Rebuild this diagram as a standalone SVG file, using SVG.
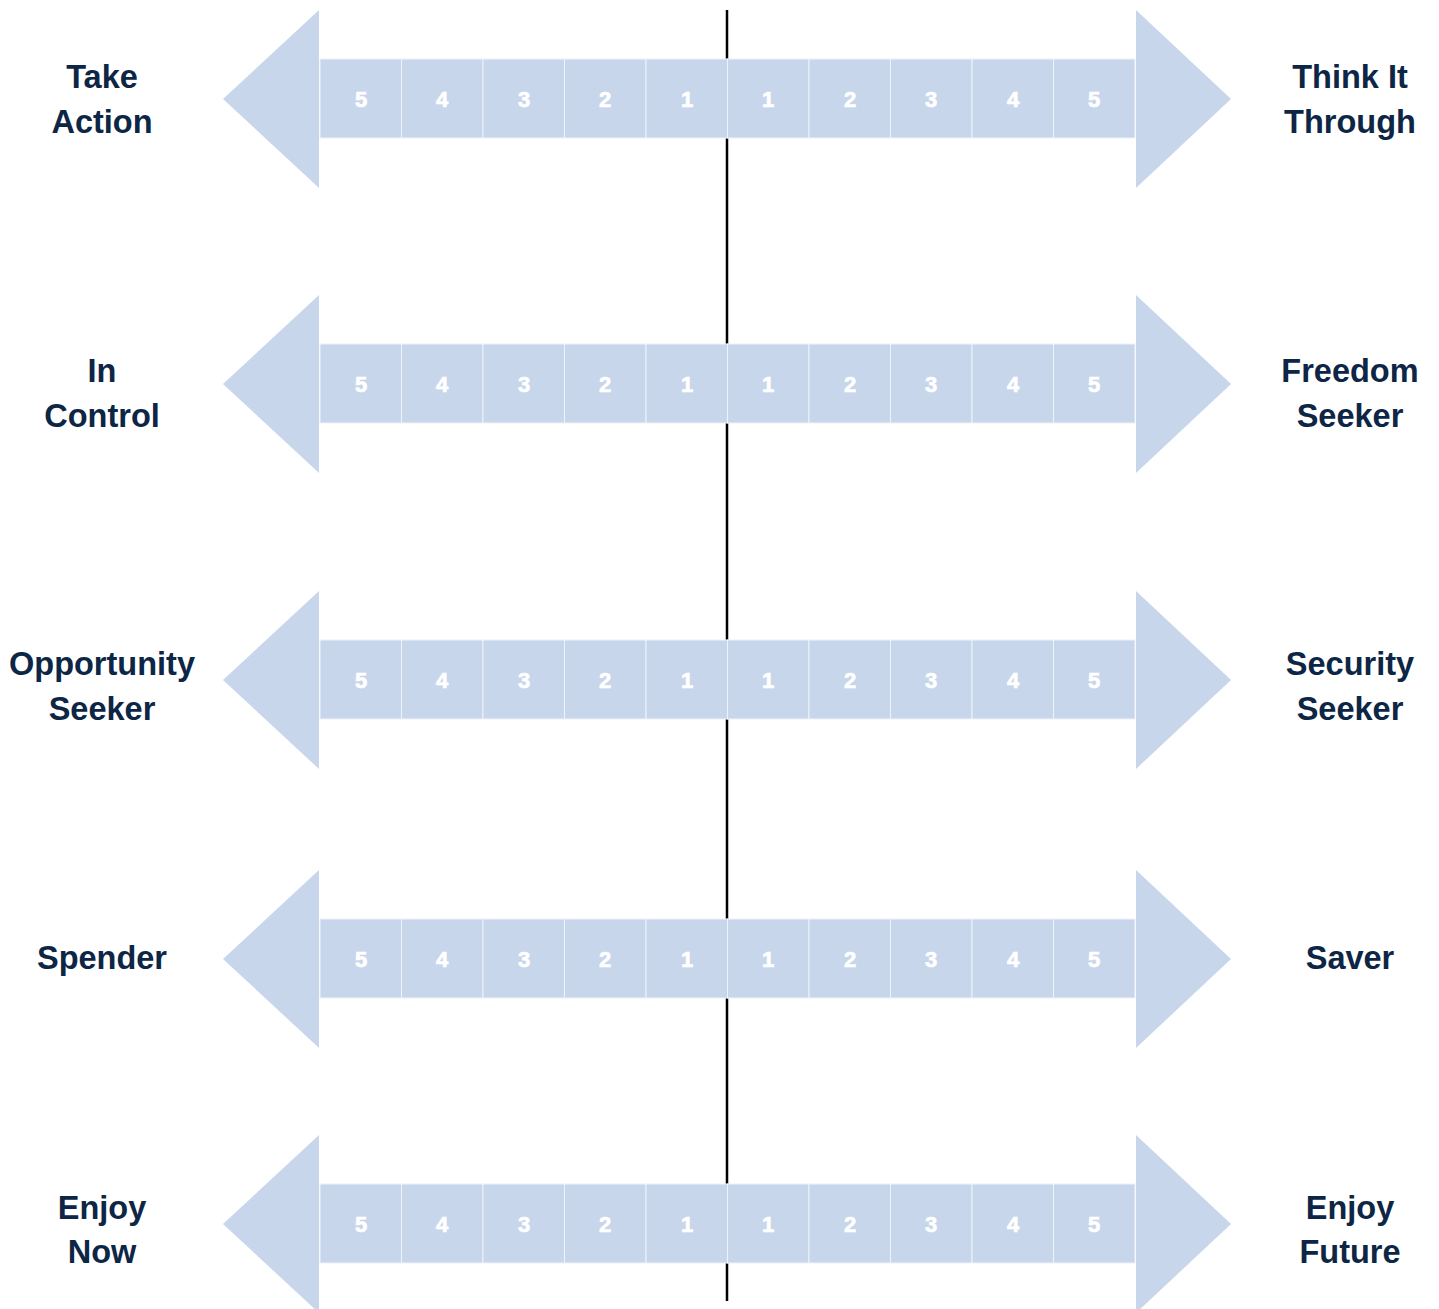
<svg xmlns="http://www.w3.org/2000/svg" width="1439" height="1309" viewBox="0 0 1439 1309">
<defs>
<style>
.ah{fill:#C8D6EC}
.cell{fill:#C8D6EC;stroke:#EEF2FA;stroke-width:1}
.num{font-family:"Liberation Sans",Arial,sans-serif;font-weight:bold;font-size:22px;fill:#FFFFFF;stroke:#FFFFFF;stroke-width:0.7;text-anchor:middle}
.lbl{font-family:"Liberation Sans",Arial,sans-serif;font-weight:bold;font-size:32.5px;fill:#0D2645;text-anchor:middle}
</style>
<g id="scale">
<polygon class="ah" points="223,0 319,-89 319,89"/>
<polygon class="ah" points="1231,0 1136,-89 1136,89"/>
<rect class="cell" x="320" y="-40" width="81.5" height="79"/>
<rect class="cell" x="401.5" y="-40" width="81.5" height="79"/>
<rect class="cell" x="483" y="-40" width="81.5" height="79"/>
<rect class="cell" x="564.5" y="-40" width="81.5" height="79"/>
<rect class="cell" x="646" y="-40" width="81.5" height="79"/>
<rect class="cell" x="727.5" y="-40" width="81.5" height="79"/>
<rect class="cell" x="809" y="-40" width="81.5" height="79"/>
<rect class="cell" x="890.5" y="-40" width="81.5" height="79"/>
<rect class="cell" x="972" y="-40" width="81.5" height="79"/>
<rect class="cell" x="1053.5" y="-40" width="81.5" height="79"/>
<text class="num" x="361" y="8">5</text>
<text class="num" x="442" y="8">4</text>
<text class="num" x="524" y="8">3</text>
<text class="num" x="605" y="8">2</text>
<text class="num" x="687" y="8">1</text>
<text class="num" x="768" y="8">1</text>
<text class="num" x="850" y="8">2</text>
<text class="num" x="931" y="8">3</text>
<text class="num" x="1013" y="8">4</text>
<text class="num" x="1094" y="8">5</text>
</g>
</defs>
<rect width="1439" height="1309" fill="#FFFFFF"/>
<g id="connectors">
<line x1="727" y1="10" x2="727" y2="1301" stroke="#000000" stroke-width="2.5"/>
</g>
<g id="row1">
<use href="#scale" x="0" y="99"/>
<text class="lbl" x="102" y="88">Take</text>
<text class="lbl" x="102" y="133">Action</text>
<text class="lbl" x="1350" y="88">Think It</text>
<text class="lbl" x="1350" y="133">Through</text>
</g>
<g id="row2">
<use href="#scale" x="0" y="384"/>
<text class="lbl" x="102" y="382">In</text>
<text class="lbl" x="102" y="427">Control</text>
<text class="lbl" x="1350" y="382">Freedom</text>
<text class="lbl" x="1350" y="427">Seeker</text>
</g>
<g id="row3">
<use href="#scale" x="0" y="680"/>
<text class="lbl" x="102" y="675">Opportunity</text>
<text class="lbl" x="102" y="720">Seeker</text>
<text class="lbl" x="1350" y="675">Security</text>
<text class="lbl" x="1350" y="720">Seeker</text>
</g>
<g id="row4">
<use href="#scale" x="0" y="959"/>
<text class="lbl" x="102" y="969">Spender</text>
<text class="lbl" x="1350" y="969">Saver</text>
</g>
<g id="row5">
<use href="#scale" x="0" y="1224"/>
<text class="lbl" x="102" y="1219">Enjoy</text>
<text class="lbl" x="102" y="1263">Now</text>
<text class="lbl" x="1350" y="1219">Enjoy</text>
<text class="lbl" x="1350" y="1263">Future</text>
</g>
</svg>
